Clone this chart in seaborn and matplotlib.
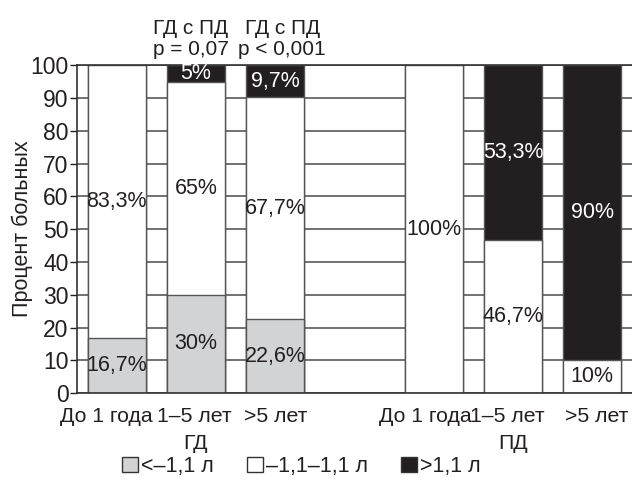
import numpy as np
import pandas as pd
import matplotlib
matplotlib.use("Agg")
import matplotlib.pyplot as plt
import matplotlib.transforms as mtransforms
from matplotlib.patches import Patch
import seaborn as sns

groups = ["ГД", "ГД", "ГД", "ПД", "ПД", "ПД"]
periods = ["До 1 года", "1–5 лет", ">5 лет", "До 1 года", "1–5 лет", ">5 лет"]
gray_vals = [16.7, 30, 22.6, 0, 0, 0]
white_vals = [83.3, 65, 67.7, 100, 46.7, 10]
black_vals = [0, 5, 9.7, 0, 53.3, 90]
legend_labels = ["<–1,1 л", "–1,1–1,1 л", ">1,1 л"]
p_notes = ["ГД с ПД\np = 0,07", "ГД с ПД\np < 0,001"]
p_note_bars = [1, 2]

GRAY = "#d2d3d5"
WHITE = "#ffffff"
BLACK = "#231f20"
EDGE = "#555555"
TXT = "#231f20"
FS = 15.3

sns.set_theme(style="white")
plt.rcParams["font.family"] = ["Liberation Sans", "DejaVu Sans"]

keys = [g + " " + p for g, p in zip(groups, periods)]
order = keys[:3] + [""] + keys[3:]
df = pd.DataFrame({
    "key": keys,
    "gray": gray_vals,
    "white": white_vals,
    "black": black_vals,
})
df["top_white"] = df["gray"] + df["white"]
df["top_black"] = df["top_white"] + df["black"]

fig = plt.figure(figsize=(6.32, 4.83), dpi=100)
ax = fig.add_axes([0.1218, 0.186, 0.878, 0.679])

bar_kw = dict(data=df, x="key", order=order, width=0.73, edgecolor=EDGE,
              linewidth=1.0, errorbar=None, ax=ax, saturation=1)
sns.barplot(y="top_black", color=BLACK, **bar_kw)
sns.barplot(y="top_white", color=WHITE, **bar_kw)
sns.barplot(y="gray", color=GRAY, **bar_kw)


def fmt(v):
    return f"{v:g}".replace(".", ",") + "%"


def shift(dx, dy=0):
    return mtransforms.ScaledTranslation(dx / 100, dy / 100, fig.dpi_scale_trans)


# segment labels
for i, key in enumerate(keys):
    pos = order.index(key)
    bottom = 0
    for col, tc in [("gray", TXT), ("white", TXT), ("black", "white")]:
        v = df.loc[i, col]
        if v > 0:
            ax.text(pos, bottom + v / 2, fmt(v), ha="center", va="center",
                    fontsize=15.5, color=tc)
        bottom += v

ax.set_xlim(-0.5, 6.5)
ax.set_ylim(0, 100)
ax.set_yticks(np.arange(0, 101, 10))
ax.set_xticks(range(7))
ax.set_xticklabels(periods[:3] + [""] + periods[3:])
ax.set_xticks(np.arange(-0.5, 7, 1), minor=True)
ax.tick_params(axis="x", which="major", length=0, pad=10, labelsize=FS, colors=TXT)
ax.tick_params(axis="x", which="minor", length=6, width=1, color=TXT)
ax.tick_params(axis="y", length=5, width=1, labelsize=16.5, color=TXT,
               labelcolor=TXT, pad=1, left=True)
# labels are nudged sideways in the original so they do not collide
for lab, dx in zip(ax.get_xticklabels(), [-10, -2, 1, 0, -8, -6, 4]):
    lab.set_transform(lab.get_transform() + shift(dx))
ax.set_xlabel("")
ax.set_ylabel("Процент больных", fontsize=15.5, color=TXT)
ax.yaxis.set_label_coords(-0.079, 0.5)

ax.yaxis.grid(True, color="#4a4a4a", linewidth=1.1)
ax.set_axisbelow(True)
for s in ["left", "bottom", "top"]:
    ax.spines[s].set_visible(True)
    ax.spines[s].set_color("#333333")
    ax.spines[s].set_linewidth(1.2)
ax.spines["right"].set_visible(False)

trans = mtransforms.blended_transform_factory(ax.transData, ax.transAxes)
ax.text(1, -0.152, "ГД", transform=trans, ha="center", va="center",
        fontsize=FS, color=TXT)
ax.text(5, -0.152, "ПД", transform=trans, ha="center", va="center",
        fontsize=FS, color=TXT)

for note, b, dx in zip(p_notes, p_note_bars, [-5, 7]):
    ax.text(b, 1.02, note, transform=trans + shift(dx), ha="center",
            va="bottom", fontsize=15, color=TXT, linespacing=1.1)

handles = [Patch(facecolor=c, edgecolor="#333333", linewidth=1.0)
           for c in [GRAY, WHITE, BLACK]]
fig.legend(handles, legend_labels, loc="center", bbox_to_anchor=(0.477, 0.034),
           ncol=3, frameon=False, fontsize=15.5, handlelength=0.72,
           handleheight=0.72, handletextpad=0.15, columnspacing=1.55,
           labelcolor=TXT)

fig.savefig("out.png", dpi=100)
